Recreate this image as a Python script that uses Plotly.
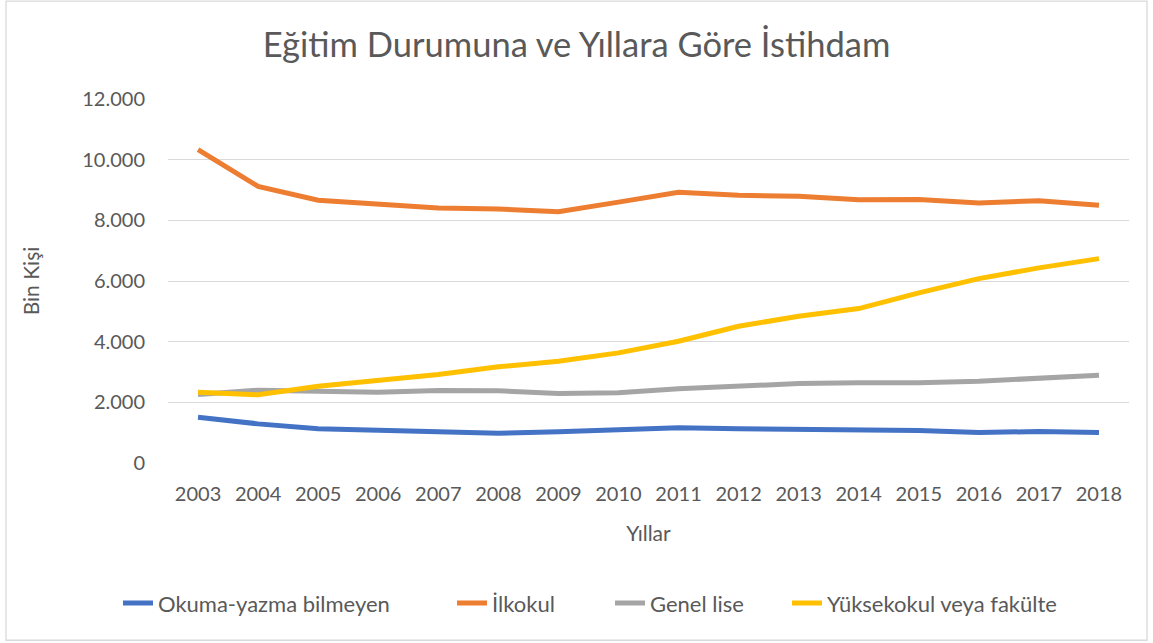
import plotly.graph_objects as go

years = [str(y) for y in range(2003, 2019)]
okuma_yazma_bilmeyen = [1510, 1290, 1127, 1080, 1015, 982, 1028, 1104, 1160, 1127, 1114, 1104, 1071, 1005, 1038, 1005]
ilkokul = [10330, 9120, 8660, 8518, 8408, 8375, 8287, 8600, 8923, 8824, 8791, 8682, 8690, 8573, 8649, 8494]
genel_lise = [2260, 2399, 2366, 2333, 2389, 2380, 2290, 2313, 2445, 2531, 2620, 2642, 2642, 2696, 2784, 2893]
yuksekokul = [2333, 2247, 2531, 2728, 2916, 3170, 3354, 3631, 4013, 4508, 4837, 5091, 5608, 6079, 6432, 6738]

series_names = ["Okuma-yazma bilmeyen", "İlkokul", "Genel lise", "Yüksekokul veya fakülte"]
series_vals = [okuma_yazma_bilmeyen, ilkokul, genel_lise, yuksekokul]
colors = ["#4472C4", "#ED7D31", "#A5A5A5", "#FFC000"]

FONT = "Lato"
W, H = 1153, 643
ml, mr, mt, mb = 168, 24, 99, 179.5
pw = W - ml - mr
ph = H - mt - mb


def px_to_paper_x(px):
    return (px - ml) / pw


def px_to_paper_y(py):
    return (H - mb - py) / ph


legend_ids = ["legend", "legend2", "legend3", "legend4"]
legend_px = [118, 452, 610, 787]

fig = go.Figure()
for name, vals, c, lid in zip(series_names, series_vals, colors, legend_ids):
    fig.add_trace(go.Scatter(x=years, y=vals, name=name, mode="lines", legend=lid,
                             line=dict(color=c, width=5)))

legend_common = dict(orientation="h", xanchor="left", y=px_to_paper_y(604), yanchor="middle",
                     font=dict(size=22, color="#595959"), bgcolor="rgba(0,0,0,0)",
                     itemwidth=30, tracegroupgap=0)
legend_layout = {lid: dict(x=px_to_paper_x(lx), **legend_common)
                 for lid, lx in zip(legend_ids, legend_px)}

fig.update_layout(
    width=W, height=H,
    margin=dict(l=ml, r=mr, t=mt, b=mb),
    paper_bgcolor="white", plot_bgcolor="white",
    separators=",.",
    font=dict(family=FONT, color="#595959", size=20),
    title=dict(text="Eğitim Durumuna ve Yıllara Göre İstihdam", x=0.5, xanchor="center",
               y=1 - 45 / H, yanchor="middle",
               font=dict(family=FONT, size=34.5, color="#595959")),
    xaxis=dict(type="category", range=[-0.5, 15.5], showgrid=False, zeroline=False,
               showline=False, ticks="", ticklabelstandoff=17,
               tickfont=dict(size=20, color="#595959"),
               title=dict(text="Yıllar", font=dict(size=21, color="#595959"), standoff=22)),
    yaxis=dict(range=[0, 12000], dtick=2000, tickformat=",d", showgrid=True,
               gridcolor="#D9D9D9", gridwidth=1.3, zeroline=False, showline=False,
               ticks="", ticklabelstandoff=22, tickfont=dict(size=20, color="#595959"),
               title=dict(text="Bin Kişi", font=dict(size=21, color="#595959"), standoff=36)),
    showlegend=True,
    **legend_layout,
)

fig.add_shape(type="rect", xref="paper", yref="paper",
              x0=px_to_paper_x(6), x1=px_to_paper_x(1147),
              y0=px_to_paper_y(641), y1=px_to_paper_y(1),
              line=dict(color="#D9D9D9", width=1.3), fillcolor="rgba(0,0,0,0)", layer="below")

fig.write_html("out.html", config={"displayModeBar": False},
               post_script="document.body.style.margin='0px';")
